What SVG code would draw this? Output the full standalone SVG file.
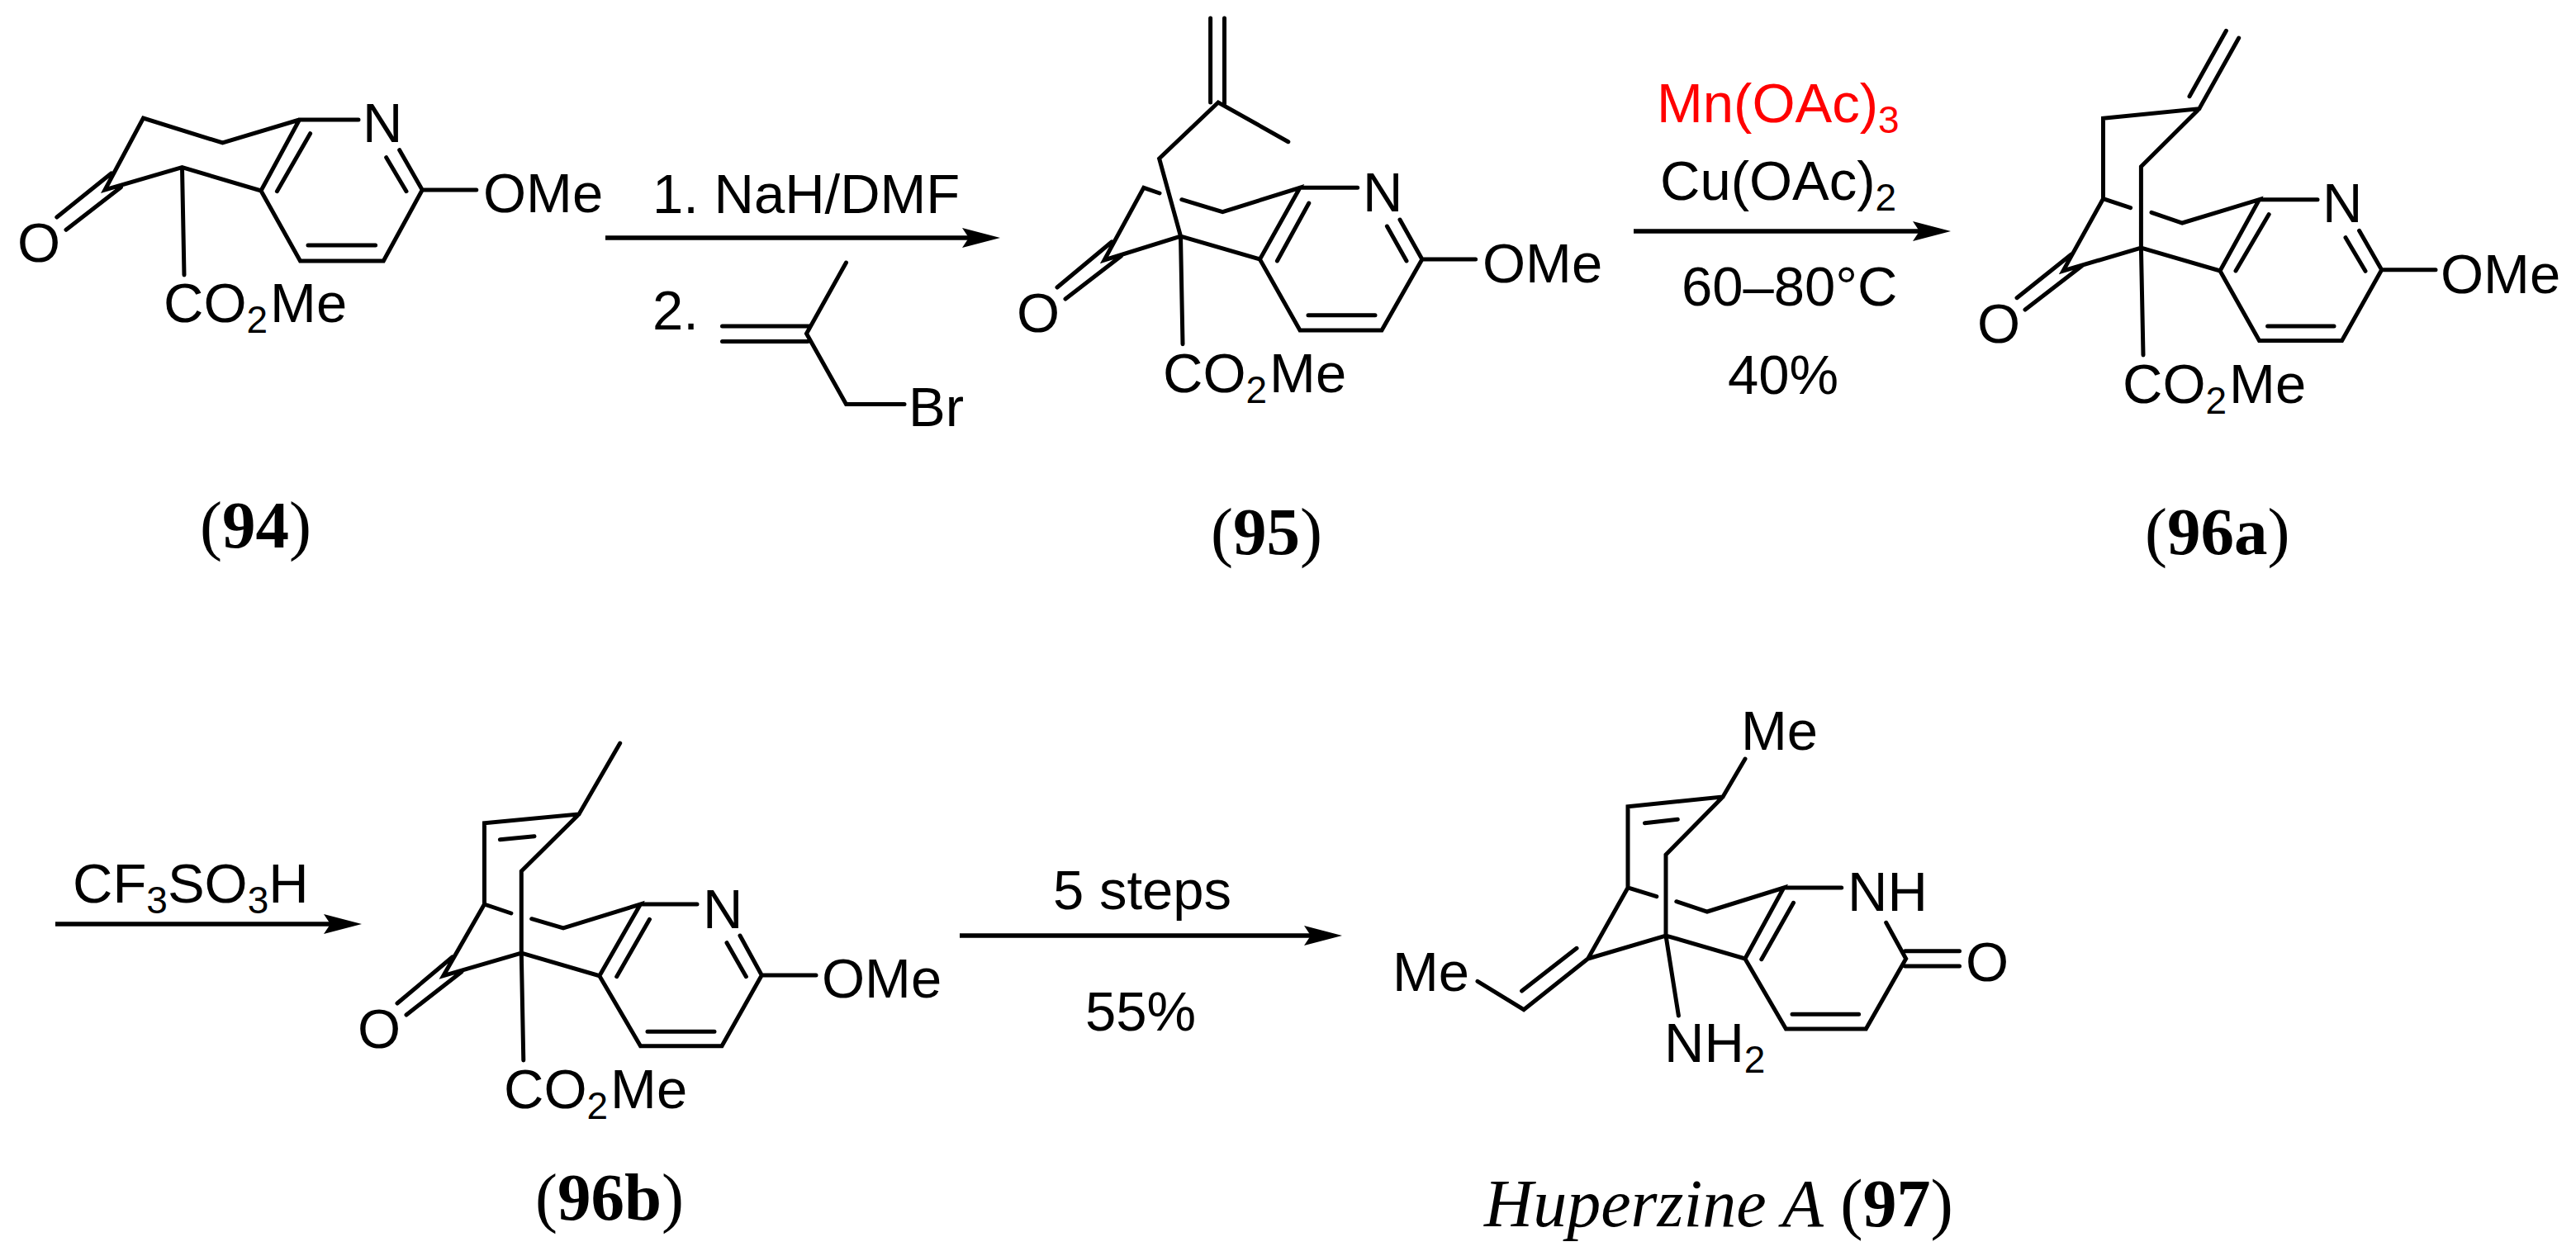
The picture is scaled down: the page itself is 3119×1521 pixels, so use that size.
<svg xmlns="http://www.w3.org/2000/svg" width="3119" height="1521" viewBox="0 0 3119 1521">
<style>
.b{fill:none;stroke:#000;stroke-width:5;stroke-linejoin:miter;stroke-linecap:round}
.t{font-family:"Liberation Sans",Arial,sans-serif;font-size:67px;fill:#000}
.s{font-size:46px}
.l{font-family:"Liberation Serif","Times New Roman",serif;font-size:81px;fill:#000}
.n{font-weight:bold}
.i{font-style:italic}
.a{fill:none;stroke:#000;stroke-width:5.5}
</style>
<defs>
<marker id="h" markerUnits="userSpaceOnUse" markerWidth="46" markerHeight="24" viewBox="0 0 46 24" refX="10" refY="12" orient="auto"><polygon points="0,0 46,12 0,24 8,12" fill="#000"/></marker>
</defs>
<rect width="3119" height="1521" fill="#fff"/>
<g id="connectors">
<path class="a" marker-end="url(#h)" d="M733 288H1175"/>
<path class="a" marker-end="url(#h)" d="M1978 280H2326"/>
<path class="a" marker-end="url(#h)" d="M67 1119H402"/>
<path class="a" marker-end="url(#h)" d="M1162 1133H1589"/>
</g>
<g id="compound-94">
<path class="b" d="M362.5 145 269.5 173 173.5 143 127 230 220.5 202.7 316 231 362.5 145H434M375.6 161.7 335.4 231.7M316 231 363.5 316H464.3L511.3 230 483.7 181.7M373 297H454.6M467.7 190.7 492 231.7M511.3 230H576.8M220.5 202.7 223 333M134.7 210 68.8 263M146.4 226.7 80 278.3"/>
<text class="t" x="439" y="172">N</text>
<text class="t" x="585" y="257">OMe</text>
<text class="t" x="21" y="317">O</text>
<text class="t" x="198" y="390">CO<tspan class="s" dy="13">2</tspan><tspan dx="3" dy="-13">Me</tspan></text>
<text class="l" x="242" y="663"><tspan>(</tspan><tspan class="n">94</tspan><tspan>)</tspan></text>
</g>
<g id="reagents-1">
<text class="t" x="790" y="258">1. NaH/DMF</text>
<text class="t" x="790" y="399">2.</text>
<path class="b" d="M874.5 395H980M874.5 413.6H978M1024.5 318 976.5 404 1024.5 489.5H1095"/>
<text class="t" x="1100" y="516">Br</text>
</g>
<g id="compound-95">
<path class="b" d="M1465.6 22V124M1482.5 22V126M1559.8 171.7 1475 124 1403.6 192 1429.5 286M1404 234 1384.8 227.3 1337 315 1429.5 286 1525.4 314 1574 227.3 1480.3 256.7 1430.8 241.7M1574 227.3H1643.7M1584.8 246 1546.4 316M1525.4 314 1574 400H1673L1721.9 314 1695 266M1584 381.7H1665M1679.4 274 1703 316M1721.9 314H1786.6M1429.5 286 1432 416.7M1346 293 1280 348M1357.5 310 1290 362"/>
<text class="t" x="1650" y="256">N</text>
<text class="t" x="1795" y="342">OMe</text>
<text class="t" x="1231" y="402">O</text>
<text class="t" x="1408" y="475">CO<tspan class="s" dy="13">2</tspan><tspan dx="3" dy="-13">Me</tspan></text>
<text class="l" x="1466" y="671"><tspan>(</tspan><tspan class="n">95</tspan><tspan>)</tspan></text>
</g>
<g id="reagents-2">
<text class="t" x="2006" y="148" style="fill:#f00">Mn(OAc)<tspan class="s" dy="13">3</tspan></text>
<text class="t" x="2010" y="242">Cu(OAc)<tspan class="s" dy="13">2</tspan></text>
<text class="t" x="2036" y="370">60–80°C</text>
<text class="t" x="2092" y="477">40%</text>
</g>
<g id="compound-96a">
<path class="b" d="M2710.7 46 2662.8 131.7 2546.5 143.3V240.7L2579.6 251.7M2695.4 37.3 2651 116.7M2662.8 131.7 2592.4 201.7V300L2595 430M2546.5 240.7 2498 328 2592.4 300 2688 328 2735.5 241.7 2642.2 270 2605 257.3M2735.5 241.7H2806M2747.2 259.6 2707 328M2688 328 2735.5 412.5H2835.6L2883.7 326.7 2856.5 279.3M2745.6 395H2826M2840 287.7 2864 328.3M2883.7 326.7H2949M2508 308 2442 360.7M2521 321.7 2452 375"/>
<text class="t" x="2812" y="269">N</text>
<text class="t" x="2955" y="355">OMe</text>
<text class="t" x="2394" y="415">O</text>
<text class="t" x="2570" y="488">CO<tspan class="s" dy="13">2</tspan><tspan dx="3" dy="-13">Me</tspan></text>
<text class="l" x="2597" y="671"><tspan>(</tspan><tspan class="n">96a</tspan><tspan>)</tspan></text>
</g>
<g id="reagent-3">
<text class="t" x="88" y="1093">CF<tspan class="s" dy="13">3</tspan><tspan dy="-13">SO</tspan><tspan class="s" dy="13">3</tspan><tspan dy="-13">H</tspan></text>
</g>
<g id="compound-96b">
<path class="b" d="M750.7 900 701 986 586.5 996.7V1095L618.9 1106M605.4 1016.7 647 1012.7M701 986 631.3 1055V1154L633.8 1284M586.5 1095 536.8 1181.7 631.3 1154 725.8 1181.7 775.5 1095 682 1124 643.7 1112.7M775.5 1095H844M786.5 1113.3 746.7 1182.7M725.8 1181.7 775.5 1266.7H874L922.3 1181 896 1133M784 1249.3H865M880 1141.7 903.4 1182.7M922.3 1181H988M547.7 1159 481 1215M559 1176.7 492 1229"/>
<text class="t" x="851" y="1124">N</text>
<text class="t" x="995" y="1208">OMe</text>
<text class="t" x="433" y="1269">O</text>
<text class="t" x="610" y="1342">CO<tspan class="s" dy="13">2</tspan><tspan dx="3" dy="-13">Me</tspan></text>
<text class="l" x="648" y="1477"><tspan>(</tspan><tspan class="n">96b</tspan><tspan>)</tspan></text>
</g>
<g id="reagent-4">
<text class="t" x="1275" y="1101">5 steps</text>
<text class="t" x="1314" y="1248">55%</text>
</g>
<g id="compound-97">
<path class="b" d="M2113 919 2086 965 1971 976.7V1075L2005.8 1085.7M1991.5 996.7 2031.3 992.3M2086 965 2017 1035V1133L2032.4 1230M1971 1075 1922.6 1161 2017 1133 2112.9 1161 2159.8 1075 2067 1104 2029.8 1091.7M2159.8 1075H2229.7M2171.5 1093.3 2132.8 1161.7M2112.9 1161 2162.4 1246H2259.3L2307.7 1161 2283.7 1117.3M2170 1228.3H2250.6M2306.7 1151.7H2372.5M2306.7 1170H2372.5M1922.6 1161 1845 1222.7 1789 1188.3M1909 1148.3 1842.6 1200"/>
<text class="t" x="2108" y="908">Me</text>
<text class="t" x="2237" y="1103">NH</text>
<text class="t" x="2380" y="1188">O</text>
<text class="t" x="2015" y="1286">NH<tspan class="s" dy="13">2</tspan></text>
<text class="t" x="1686" y="1200">Me</text>
<text class="l" x="1797" y="1485" style="font-size:82px"><tspan class="i">Huperzine A</tspan> (<tspan class="n">97</tspan>)</text>
</g>
</svg>
